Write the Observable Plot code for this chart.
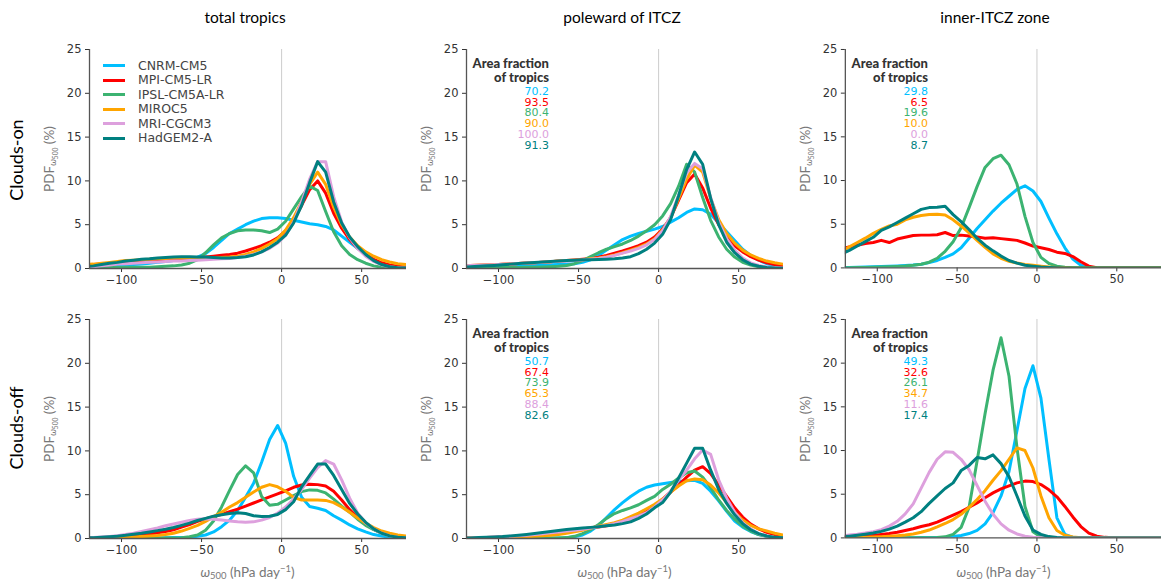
<!DOCTYPE html>
<html><head><meta charset="utf-8">
<script src="https://cdn.jsdelivr.net/npm/d3@7"></script>
<script src="https://cdn.jsdelivr.net/npm/@observablehq/plot@0.6"></script>
<style>
body{margin:0;background:#fff;}
#fig{position:relative;width:1161px;height:582px;overflow:hidden;font-family:Lato,sans-serif;}
.abs{position:absolute;white-space:nowrap;}
.rot{transform:translate(-50%,-50%) rotate(-90deg);}
.ctr{transform:translate(-50%,-50%);}
sub{font-size:70%;vertical-align:-0.25em;line-height:0;}
sup{font-size:70%;vertical-align:0.5em;line-height:0;}
</style></head>
<body><div id="fig"></div>
<script>
// ---------- data ----------
const models = ["CNRM-CM5","MPI-CM5-LR","IPSL-CM5A-LR","MIROC5","MRI-CGCM3","HadGEM2-A"];
const colors = ["#00bfff","#ff0000","#3cb371","#ffa500","#dda0dd","#008080"];
const omega = [-122.5,-117.5,-112.5,-107.5,-102.5,-97.5,-92.5,-87.5,-82.5,-77.5,
  -72.5,-67.5,-62.5,-57.5,-52.5,-47.5,-42.5,-37.5,-32.5,-27.5,
  -22.5,-17.5,-12.5,-7.5,-2.5,2.5,7.5,12.5,17.5,22.5,
  27.5,32.5,37.5,42.5,47.5,52.5,57.5,62.5,67.5,72.5,77.5];
const xTicks = [-100,-50,0,50];
const yTicks = [0,5,10,15,20,25];
const xDomain = [-120,78];
const yDomain = [0,25];
const colTitles = ["total tropics","poleward of ITCZ","inner-ITCZ zone"];
const rowTitles = ["Clouds-on","Clouds-off"];

// Clouds-on, total tropics
const onTotal = [
 [0.2,0.2,0.25,0.3,0.35,0.4,0.45,0.5,0.6,0.7, 0.8,0.9,1.0,1.15,1.3,1.7,2.4,3.2,4.0,4.5, 5.0,5.4,5.7,5.8,5.8,5.7,5.5,5.3,5.1,5.0, 4.8,4.4,3.7,3.0,2.3,1.6,1.0,0.5,0.2,0.1,0.05],
 [0.4,0.45,0.5,0.55,0.6,0.65,0.7,0.75,0.8,0.85, 0.9,0.95,1.0,1.1,1.2,1.3,1.4,1.5,1.6,1.75, 2.0,2.3,2.6,3.0,3.5,4.3,5.5,7.2,9.0,10.0, 8.6,6.3,4.6,3.3,2.3,1.6,1.05,0.65,0.4,0.25,0.15],
 [0.1,0.1,0.1,0.12,0.12,0.13,0.14,0.15,0.15,0.2, 0.25,0.3,0.4,0.6,1.0,1.8,2.7,3.5,4.0,4.3, 4.4,4.4,4.3,4.1,4.5,5.4,6.8,8.2,9.4,8.9, 6.5,4.2,2.6,1.6,1.0,0.6,0.3,0.15,0.08,0.05,0.03],
 [0.45,0.5,0.6,0.7,0.8,0.9,0.95,1.0,1.05,1.1, 1.15,1.2,1.2,1.2,1.2,1.2,1.2,1.25,1.3,1.4, 1.6,1.9,2.3,2.8,3.4,4.4,5.8,7.6,9.6,11.0, 9.6,7.0,5.0,3.6,2.6,1.9,1.4,1.0,0.75,0.55,0.45],
 [0.15,0.2,0.3,0.4,0.5,0.55,0.6,0.65,0.7,0.75, 0.8,0.85,0.85,0.9,0.95,1.0,1.05,1.1,1.15,1.25, 1.4,1.6,1.9,2.3,2.9,3.8,5.3,7.6,10.2,12.2, 12.2,8.2,5.3,3.5,2.3,1.4,0.8,0.4,0.2,0.1,0.05],
 [0.2,0.3,0.45,0.6,0.7,0.85,0.95,1.05,1.1,1.2, 1.25,1.3,1.35,1.35,1.3,1.3,1.25,1.2,1.2,1.25, 1.35,1.55,1.9,2.4,3.0,3.8,5.2,7.2,9.8,12.2, 11.0,7.6,5.2,3.6,2.5,1.6,0.9,0.45,0.2,0.1,0.05]
];
// Clouds-on, poleward of ITCZ
const onPole = [
 [0.2,0.22,0.24,0.26,0.28,0.3,0.32,0.34,0.36,0.38, 0.4,0.42,0.45,0.5,0.55,0.7,1.0,1.5,2.1,2.7, 3.3,3.7,4.0,4.25,4.5,4.8,5.3,5.8,6.4,6.8, 6.7,6.2,5.2,4.2,3.2,2.2,1.5,0.95,0.55,0.3,0.15],
 [0.3,0.33,0.36,0.4,0.44,0.48,0.52,0.57,0.62,0.67, 0.72,0.78,0.85,0.9,0.97,1.05,1.15,1.3,1.5,1.75, 2.0,2.3,2.6,3.0,3.6,4.5,5.8,7.8,9.8,10.8, 9.2,6.9,5.0,3.6,2.6,1.9,1.35,0.95,0.65,0.45,0.3],
 [0.05,0.06,0.07,0.08,0.09,0.1,0.11,0.12,0.13,0.15, 0.17,0.2,0.25,0.35,0.55,0.9,1.35,1.8,2.2,2.5, 2.8,3.2,3.7,4.3,5.0,6.0,7.4,9.4,11.9,11.0, 8.1,5.5,3.6,2.2,1.3,0.7,0.4,0.2,0.1,0.05,0.03],
 [0.3,0.33,0.36,0.4,0.44,0.48,0.52,0.57,0.62,0.67, 0.72,0.78,0.85,0.9,0.95,1.0,1.1,1.2,1.35,1.55, 1.8,2.1,2.4,2.8,3.4,4.4,5.8,8.0,10.2,11.8, 11.0,8.0,5.6,4.0,2.9,2.1,1.55,1.15,0.85,0.65,0.5],
 [0.3,0.33,0.36,0.4,0.44,0.48,0.52,0.57,0.62,0.67, 0.72,0.77,0.82,0.87,0.92,0.97,1.05,1.15,1.3,1.5, 1.75,2.0,2.3,2.7,3.3,4.3,5.9,8.4,10.9,12.0, 11.4,8.1,5.3,3.4,2.1,1.2,0.65,0.35,0.18,0.1,0.05],
 [0.15,0.2,0.25,0.3,0.35,0.42,0.5,0.56,0.62,0.68, 0.74,0.8,0.85,0.9,0.95,1.0,1.0,1.02,1.05,1.1, 1.2,1.35,1.7,2.2,2.9,3.9,5.6,8.3,11.3,13.3, 11.9,8.0,5.0,3.0,1.8,1.0,0.5,0.25,0.12,0.06,0.03]
];
// Clouds-on, inner-ITCZ zone (MRI-CGCM3 has no inner-ITCZ area)
const onInner = [
 [0.03,0.05,0.07,0.1,0.12,0.15,0.18,0.22,0.27,0.33, 0.42,0.6,0.85,1.2,1.6,2.3,3.4,4.5,5.5,6.5, 7.4,8.2,9.0,9.4,8.8,7.6,5.7,3.9,2.3,1.0, 0.3,0.05,0,0,0,0,0,0,0,0,0],
 [2.2,2.4,2.6,2.8,2.9,3.15,2.9,3.3,3.5,3.7, 3.75,3.75,3.8,4.05,3.7,3.75,3.65,3.55,3.4,3.45, 3.35,3.25,3.15,2.85,2.5,2.3,2.1,1.8,1.65,1.3, 0.7,0.2,0.03,0,0,0,0,0,0,0,0],
 [0.02,0.03,0.04,0.05,0.07,0.1,0.13,0.17,0.22,0.3, 0.42,0.65,1.1,1.9,3.0,4.6,6.9,9.3,11.5,12.5, 12.9,11.8,9.6,5.9,2.9,1.2,0.5,0.2,0.08,0.03, 0.01,0,0,0,0,0,0,0,0,0,0],
 [1.9,2.4,2.9,3.4,3.95,4.4,4.8,5.0,5.5,5.8, 6.0,6.1,6.15,6.05,5.5,4.8,4.0,3.15,2.35,1.6, 1.1,0.75,0.55,0.4,0.3,0.2,0.1,0.05,0.02,0, 0,0,0,0,0,0,0,0,0,0,0],
 null,
 [1.6,2.0,2.5,3.0,3.5,4.3,4.7,5.2,5.7,6.2, 6.7,6.9,6.95,7.05,6.1,5.3,4.4,3.4,2.6,1.95, 1.35,0.85,0.55,0.3,0.2,0.1,0.05,0.02,0,0, 0,0,0,0,0,0,0,0,0,0,0]
];
// Clouds-off, total tropics
const offTotal = [
 [0.03,0.03,0.03,0.04,0.04,0.04,0.05,0.05,0.05,0.06, 0.08,0.1,0.12,0.15,0.25,0.4,0.75,1.35,2.1,3.2, 4.7,6.3,8.7,11.3,12.9,10.9,7.1,4.7,3.65,3.45, 3.2,2.6,2.1,1.55,1.1,0.75,0.45,0.28,0.15,0.08,0.05],
 [0.03,0.05,0.07,0.1,0.14,0.2,0.3,0.4,0.5,0.65, 0.8,1.0,1.3,1.6,1.95,2.25,2.5,2.75,3.05,3.35, 3.7,4.05,4.4,4.75,5.1,5.45,5.85,6.1,6.2,6.15, 6.0,5.4,4.4,3.3,2.4,1.65,1.05,0.65,0.4,0.25,0.15],
 [0.02,0.02,0.02,0.02,0.03,0.03,0.03,0.03,0.04,0.04, 0.05,0.05,0.1,0.2,0.4,0.95,2.0,3.6,5.5,7.3, 8.3,7.5,4.8,3.8,3.9,4.4,4.9,5.35,5.55,5.5, 5.2,4.5,3.7,3.0,2.2,1.5,1.0,0.6,0.35,0.2,0.1],
 [0.03,0.04,0.06,0.08,0.1,0.13,0.17,0.22,0.28,0.35, 0.45,0.6,0.85,1.15,1.5,1.95,2.5,3.0,3.6,4.1, 4.7,5.3,5.85,6.15,5.9,5.4,4.7,4.4,4.4,4.4, 4.35,4.1,3.6,3.0,2.35,1.75,1.25,0.85,0.6,0.4,0.3],
 [0.08,0.12,0.17,0.24,0.32,0.45,0.6,0.8,1.0,1.2, 1.45,1.65,1.85,2.05,2.2,2.25,2.2,2.1,2.0,1.9, 1.85,1.9,2.1,2.4,2.9,3.6,4.5,5.6,6.9,8.1, 8.9,8.5,6.7,4.6,2.9,1.8,1.1,0.6,0.3,0.15,0.08],
 [0.06,0.1,0.14,0.2,0.27,0.36,0.48,0.6,0.75,0.9, 1.05,1.25,1.5,1.75,2.05,2.3,2.55,2.7,2.85,2.95, 2.85,2.6,2.5,2.55,2.75,3.3,4.2,5.9,7.2,8.5, 8.5,7.2,5.6,4.0,2.8,1.85,1.1,0.6,0.3,0.15,0.08]
];
// Clouds-off, poleward of ITCZ
const offPole = [
 [0.02,0.02,0.02,0.02,0.02,0.02,0.02,0.02,0.03,0.03, 0.03,0.04,0.06,0.1,0.2,0.4,0.85,1.5,2.4,3.3, 4.1,4.8,5.4,5.85,6.1,6.25,6.4,6.5,6.6,6.65, 6.3,5.4,4.3,3.1,2.0,1.3,0.8,0.45,0.25,0.12,0.08],
 [0.04,0.05,0.07,0.1,0.13,0.16,0.2,0.25,0.3,0.37, 0.45,0.55,0.67,0.8,0.95,1.1,1.2,1.3,1.45,1.65, 1.95,2.25,2.6,3.1,3.7,4.5,5.3,6.1,7.0,7.8, 8.2,7.4,6.1,4.8,3.5,2.45,1.65,1.1,0.7,0.45,0.3],
 [0.01,0.01,0.01,0.02,0.02,0.02,0.02,0.03,0.03,0.03, 0.04,0.05,0.07,0.1,0.25,0.55,1.0,1.6,2.3,2.85, 3.2,3.5,3.85,4.35,4.8,5.6,6.2,6.9,7.5,7.7, 7.0,5.8,4.4,3.2,2.2,1.4,0.85,0.45,0.25,0.12,0.07],
 [0.05,0.06,0.07,0.09,0.1,0.12,0.14,0.17,0.2,0.25, 0.3,0.37,0.45,0.6,0.78,0.95,1.2,1.4,1.6,1.8, 2.1,2.5,2.9,3.4,3.9,4.5,5.3,6.0,6.6,6.8, 6.7,6.1,5.2,4.1,3.0,2.1,1.5,1.1,0.85,0.6,0.4],
 [0.05,0.07,0.09,0.12,0.16,0.2,0.25,0.3,0.37,0.45, 0.55,0.65,0.75,0.85,0.95,1.05,1.2,1.35,1.5,1.7, 1.95,2.25,2.55,2.95,3.6,4.4,5.4,6.7,7.8,9.1, 10.1,9.6,6.7,4.6,3.0,1.8,1.1,0.55,0.28,0.13,0.07],
 [0.05,0.07,0.1,0.13,0.17,0.22,0.3,0.38,0.47,0.57, 0.68,0.8,0.92,1.02,1.12,1.2,1.27,1.35,1.45,1.55, 1.7,1.9,2.3,2.8,3.5,4.1,5.3,6.9,8.6,10.3, 10.3,7.8,5.6,4.0,2.7,1.7,1.0,0.55,0.28,0.13,0.08]
];
// Clouds-off, inner-ITCZ zone
const offInner = [
 [0.01,0.01,0.01,0.01,0.01,0.02,0.02,0.02,0.03,0.03, 0.04,0.04,0.05,0.08,0.15,0.27,0.5,0.85,1.6,2.9, 4.8,7.6,12.3,17.1,19.7,16.0,9.0,2.3,0.4,0.05, 0,0,0,0,0,0,0,0,0,0,0],
 [0.05,0.08,0.12,0.18,0.27,0.38,0.5,0.65,0.85,1.05, 1.3,1.5,1.8,2.2,2.6,3.0,3.5,4.0,4.6,5.15, 5.6,5.95,6.3,6.5,6.45,6.1,5.5,4.7,3.6,2.4, 1.3,0.55,0.2,0.06,0.02,0,0,0,0,0,0],
 [0.01,0.01,0.01,0.01,0.01,0.01,0.01,0.01,0.01,0.01, 0.02,0.03,0.05,0.12,0.4,1.2,3.5,8.8,14.2,19.2, 22.9,18.5,10.3,3.6,0.7,0.1,0.02,0,0,0, 0,0,0,0,0,0,0,0,0,0,0],
 [0.02,0.03,0.04,0.06,0.09,0.13,0.18,0.25,0.33,0.45, 0.65,0.9,1.25,1.65,2.1,2.7,3.5,4.4,5.4,6.6, 7.7,9.0,10.3,10.0,8.0,4.8,2.3,0.85,0.3,0.1, 0.03,0,0,0,0,0,0,0,0,0,0],
 [0.22,0.32,0.42,0.55,0.72,0.95,1.35,1.9,2.75,3.9, 5.7,7.5,9.0,9.85,9.8,9.0,7.8,6.0,4.2,2.7, 1.6,0.88,0.45,0.2,0.08,0.03,0,0,0,0, 0,0,0,0,0,0,0,0,0,0,0],
 [0.12,0.2,0.3,0.42,0.55,0.75,1.0,1.35,1.8,2.3, 3.0,3.95,4.8,5.65,6.3,7.7,8.3,9.2,9.05,9.5, 8.5,7.0,4.8,2.5,0.9,0.4,0.15,0.05,0,0, 0,0,0,0,0,0,0,0,0,0,0]
];
// Area fraction of tropics (%)
const fracOnPole = [70.2,93.5,80.4,90.0,100.0,91.3];
const fracOnInner = [29.8,6.5,19.6,10.0,0.0,8.7];
const fracOffPole = [50.7,67.4,73.9,65.3,88.4,82.6];
const fracOffInner = [49.3,32.6,26.1,34.7,11.6,17.4];

// ---------- layout ----------
const fig = document.getElementById("fig");
const colLeft = [89, 466, 845];
const rowTop = [49, 319];
const PW = 317, PH = 219, ML = 60, MT = 10, MB = 30;

function add(html, css, cls) {
  const d = document.createElement("div");
  d.className = "abs " + (cls || "");
  d.innerHTML = html;
  Object.assign(d.style, css);
  fig.appendChild(d);
  return d;
}

function makePlot(series, col) {
  const rows = series.flatMap((vals, i) => vals ? vals.map((v, j) => ({model: models[i], w: omega[j], pdf: v})) : []);
  const MR = col === 2 ? 0 : 6;
  return Plot.plot({
    width: ML + PW + MR, height: MT + PH + MB,
    marginLeft: ML, marginRight: MR, marginTop: MT, marginBottom: MB,
    style: {fontFamily: "'DejaVu Sans', sans-serif", fontSize: "11.5px", color: "#333", background: "transparent", overflow: "visible"},
    x: {domain: xDomain, ticks: xTicks, tickSize: 4, tickPadding: 3, label: null},
    y: {domain: yDomain, ticks: yTicks, tickSize: 4, tickPadding: 4, label: null},
    color: {domain: models, range: colors},
    marks: [
      Plot.ruleX([0], {stroke: "#cccccc", strokeWidth: 1}),
      Plot.lineY(rows, {x: "w", y: "pdf", z: "model", stroke: "model", strokeWidth: 3, clip: true}),
      Plot.ruleY([yDomain[0]], {stroke: "#555", strokeWidth: 1.3}),
      Plot.ruleX([xDomain[0]], {stroke: "#555", strokeWidth: 1.3})
    ]
  });
}

const grid = [[onTotal, onPole, onInner], [offTotal, offPole, offInner]];
const fracs = [[null, fracOnPole, fracOnInner], [null, fracOffPole, fracOffInner]];

grid.forEach((rowSeries, r) => {
  rowSeries.forEach((series, c) => {
    const svg = makePlot(series, c);
    const holder = add("", {left: (colLeft[c] - ML) + "px", top: (rowTop[r] - MT) + "px"});
    holder.appendChild(svg);
    // y label
    add('PDF<sub><i>ω</i><sub>500</sub></sub>&nbsp;(%)',
      {left: (colLeft[c] - 40) + "px", top: (rowTop[r] + PH / 2) + "px", fontSize: "13.5px", color: "#777"}, "rot");
    // x label (bottom row)
    if (r === 1) {
      add('<i>ω</i><sub>500</sub>&nbsp;(hPa day<sup>−1</sup>)',
        {left: (colLeft[c] + PW / 2) + "px", top: "572px", fontSize: "13.5px", color: "#777"}, "ctr");
    }
    // area fractions
    const f = fracs[r][c];
    if (f) {
      const right = (1161 - (colLeft[c] + 83)) + "px";
      add("Area fraction<br>of tropics", {right, top: (rowTop[r] + 7) + "px", textAlign: "right",
        fontWeight: "900", fontSize: "13px", lineHeight: "14px", color: "#333"});
      add(f.map((v, i) => `<div style="color:${colors[i]}">${v.toFixed(1)}</div>`).join(""),
        {right, top: (rowTop[r] + 38) + "px", textAlign: "right", fontFamily: "'DejaVu Sans', sans-serif",
          fontSize: "11px", lineHeight: "10.7px"});
    }
  });
});

// legend (top-left panel)
models.forEach((m, i) => {
  const y = 65.7 + i * 14.5;
  add("", {left: "103px", top: (y - 1.6) + "px", width: "22px", height: "3.3px", background: colors[i]});
  add(m, {left: "138px", top: (y - 8) + "px", fontFamily: "'DejaVu Sans', sans-serif", fontSize: "12.5px",
    lineHeight: "16px", color: "#444"});
});

// column & row titles
const titleX = [245, 622, 995];
colTitles.forEach((t, c) => add(t, {left: titleX[c] + "px", top: "17px", fontSize: "15.5px", color: "#000"}, "ctr"));
const rowY = [160, 428];
rowTitles.forEach((t, r) => add(t, {left: "16px", top: rowY[r] + "px", fontSize: "18px", color: "#000"}, "rot"));
</script>
</body></html>
